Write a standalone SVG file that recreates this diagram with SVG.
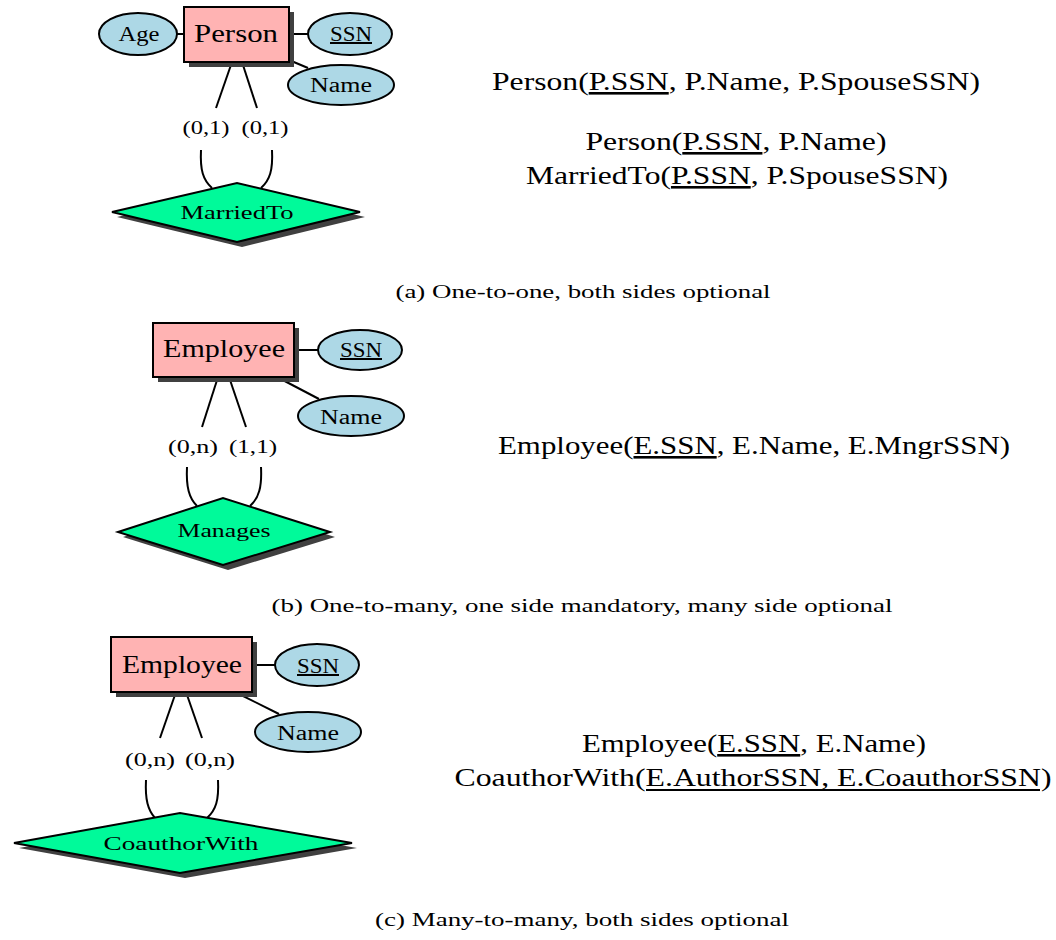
<svg xmlns="http://www.w3.org/2000/svg" width="1056" height="940" viewBox="0 0 1056 940">
<style>
.ent{fill:#ffb3b3;stroke:#000;stroke-width:2}
.sh{fill:#404040}
.attr{fill:#add8e6;stroke:#000;stroke-width:2}
.rel{fill:#00fa9a;stroke:#000;stroke-width:2}
.ln{stroke:#000;stroke-width:2;fill:none}
text{font-family:"Liberation Serif","Times New Roman",serif;fill:#000;text-anchor:middle}
.big{font-size:26px}
.at{font-size:20px}
.cd{font-size:19px}
.rl{font-size:19px}
.cap{font-size:18px}
.u{text-decoration:underline;text-decoration-thickness:2px}
</style>
<rect width="1056" height="940" fill="#fff"/>

<!-- (a) -->
<g id="connectors-a">
<path class="ln" d="M177,34 H184"/>
<path class="ln" d="M289,34 H308"/>
<path class="ln" d="M289,60 L308,68"/>
<path class="ln" d="M232,62 L216,108"/>
<path class="ln" d="M242,62 L257,108"/>
<path class="ln" d="M201,150 C200,170 203,180 212,188"/>
<path class="ln" d="M272,150 C273,170 270,180 261,188"/>
</g>
<g id="person-a">
<rect class="sh" x="189" y="12" width="105" height="55"/>
<rect class="ent" x="184" y="7" width="105" height="55"/>
<text class="big" x="236" y="42" textLength="84" lengthAdjust="spacingAndGlyphs">Person</text>
</g>
<g id="age-a">
<ellipse class="attr" cx="138" cy="34" rx="39" ry="21"/>
<text class="at" x="139" y="41" textLength="41" lengthAdjust="spacingAndGlyphs">Age</text>
</g>
<g id="ssn-a">
<ellipse class="attr" cx="350" cy="34" rx="42" ry="21"/>
<text class="at u" x="351" y="41" textLength="42" lengthAdjust="spacingAndGlyphs">SSN</text>
</g>
<g id="name-a">
<ellipse class="attr" cx="341" cy="85" rx="53" ry="20"/>
<text class="at" x="341" y="92" textLength="62" lengthAdjust="spacingAndGlyphs">Name</text>
</g>
<g id="card-a">
<text class="cd" x="206" y="134" textLength="47" lengthAdjust="spacingAndGlyphs">(0,1)</text>
<text class="cd" x="265" y="134" textLength="47" lengthAdjust="spacingAndGlyphs">(0,1)</text>
</g>
<g id="marriedto-a">
<polygon class="sh" points="117,217 242,188 365,217 242,247"/>
<polygon class="rel" points="112,212 237,183 360,212 237,242"/>
<text class="rl" x="237" y="219" textLength="113" lengthAdjust="spacingAndGlyphs">MarriedTo</text>
</g>
<g id="schema-a">
<text class="big" x="736" y="90" textLength="488" lengthAdjust="spacingAndGlyphs">Person(<tspan class="u">P.SSN</tspan>, P.Name, P.SpouseSSN)</text>
<text class="big" x="736" y="150" textLength="301" lengthAdjust="spacingAndGlyphs">Person(<tspan class="u">P.SSN</tspan>, P.Name)</text>
<text class="big" x="737" y="184" textLength="422" lengthAdjust="spacingAndGlyphs">MarriedTo(<tspan class="u">P.SSN</tspan>, P.SpouseSSN)</text>
</g>
<text class="cap" x="583" y="298" textLength="375" lengthAdjust="spacingAndGlyphs">(a)  One-to-one, both sides optional</text>

<!-- (b) -->
<g id="connectors-b">
<path class="ln" d="M294,350 H318"/>
<path class="ln" d="M277,377 L319,399"/>
<path class="ln" d="M218,377 L202,427"/>
<path class="ln" d="M229,377 L246,427"/>
<path class="ln" d="M187,467 C186,487 189,498 197,506"/>
<path class="ln" d="M261,467 C262,487 259,498 250,506"/>
</g>
<g id="employee-b">
<rect class="sh" x="158" y="328" width="141" height="54"/>
<rect class="ent" x="153" y="323" width="141" height="54"/>
<text class="big" x="224" y="357" textLength="122" lengthAdjust="spacingAndGlyphs">Employee</text>
</g>
<g id="ssn-b">
<ellipse class="attr" cx="360" cy="350" rx="42" ry="20"/>
<text class="at u" x="361" y="357" textLength="42" lengthAdjust="spacingAndGlyphs">SSN</text>
</g>
<g id="name-b">
<ellipse class="attr" cx="351" cy="416" rx="53" ry="20"/>
<text class="at" x="351" y="424" textLength="62" lengthAdjust="spacingAndGlyphs">Name</text>
</g>
<g id="card-b">
<text class="cd" x="193" y="453" textLength="50" lengthAdjust="spacingAndGlyphs">(0,n)</text>
<text class="cd" x="253" y="453" textLength="48" lengthAdjust="spacingAndGlyphs">(1,1)</text>
</g>
<g id="manages-b">
<polygon class="sh" points="123,537 228,503 335,537 228,570"/>
<polygon class="rel" points="118,532 223,498 330,532 223,565"/>
<text class="rl" x="224" y="537" textLength="93" lengthAdjust="spacingAndGlyphs">Manages</text>
</g>
<g id="schema-b">
<text class="big" x="754" y="454" textLength="512" lengthAdjust="spacingAndGlyphs">Employee(<tspan class="u">E.SSN</tspan>, E.Name, E.MngrSSN)</text>
</g>
<text class="cap" x="582" y="612" textLength="621" lengthAdjust="spacingAndGlyphs">(b)  One-to-many, one side mandatory, many side optional</text>

<!-- (c) -->
<g id="connectors-c">
<path class="ln" d="M252,665 H275"/>
<path class="ln" d="M235,692 L279,714"/>
<path class="ln" d="M176,692 L160,738"/>
<path class="ln" d="M186,692 L202,738"/>
<path class="ln" d="M146,780 C145,800 148,810 155,818"/>
<path class="ln" d="M218,780 C219,800 216,810 207,818"/>
</g>
<g id="employee-c">
<rect class="sh" x="116" y="642" width="141" height="55"/>
<rect class="ent" x="111" y="637" width="141" height="55"/>
<text class="big" x="182" y="673" textLength="120" lengthAdjust="spacingAndGlyphs">Employee</text>
</g>
<g id="ssn-c">
<ellipse class="attr" cx="317" cy="665" rx="42" ry="21"/>
<text class="at u" x="318" y="673" textLength="42" lengthAdjust="spacingAndGlyphs">SSN</text>
</g>
<g id="name-c">
<ellipse class="attr" cx="308" cy="732" rx="53" ry="20"/>
<text class="at" x="308" y="740" textLength="62" lengthAdjust="spacingAndGlyphs">Name</text>
</g>
<g id="card-c">
<text class="cd" x="150" y="766" textLength="50" lengthAdjust="spacingAndGlyphs">(0,n)</text>
<text class="cd" x="210" y="766" textLength="50" lengthAdjust="spacingAndGlyphs">(0,n)</text>
</g>
<g id="coauthorwith-c">
<polygon class="sh" points="19,848 185,818 357,848 185,878"/>
<polygon class="rel" points="14,843 180,813 352,843 180,873"/>
<text class="rl" x="181" y="850" textLength="155" lengthAdjust="spacingAndGlyphs">CoauthorWith</text>
</g>
<g id="schema-c">
<text class="big" x="754" y="752" textLength="344" lengthAdjust="spacingAndGlyphs">Employee(<tspan class="u">E.SSN</tspan>, E.Name)</text>
<text class="big" x="753" y="786" textLength="597" lengthAdjust="spacingAndGlyphs">CoauthorWith(E.AuthorSSN, E.CoauthorSSN)</text>
<line x1="646" y1="790" x2="1040" y2="790" stroke="#000" stroke-width="2"/>
</g>
<text class="cap" x="582" y="926" textLength="414" lengthAdjust="spacingAndGlyphs">(c)  Many-to-many, both sides optional</text>
</svg>
